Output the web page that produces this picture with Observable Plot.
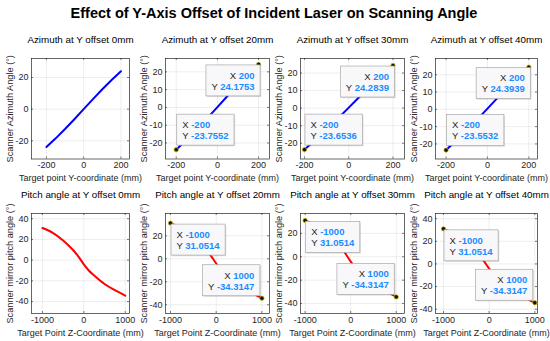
<!DOCTYPE html>
<html><head><meta charset="utf-8">
<script src="https://cdn.jsdelivr.net/npm/d3@7"></script>
<script src="https://cdn.jsdelivr.net/npm/@observablehq/plot@0.6"></script>
<style>
html,body{margin:0;padding:0;background:#fff;}
#chart{position:relative;width:550px;height:341px;font-family:"Liberation Sans",Arial,Helvetica,sans-serif;overflow:hidden;background:#fff;}
#title{position:absolute;left:0;width:548px;top:5px;text-align:center;font-weight:bold;font-size:14.5px;color:#000;line-height:17px;}
</style></head><body>
<div id="chart"><div id="title">Effect of Y-Axis Offset of Incident Laser on Scanning Angle</div></div>
<script>
// ---- data ----
const targetY = [-200, -150, -100, -50, 0, 50, 100, 150, 200];
const azimuth0 = [-23.96, -18.45, -12.55, -6.35, 0, 6.35, 12.55, 18.45, 23.96];
const azimuth20 = [-23.7552, -18.2, -12.35, -6.15, 0.2, 6.55, 12.75, 18.65, 24.1753];
const azimuth30 = [-23.6536, -18.1, -12.25, -6.05, 0.3, 6.65, 12.85, 18.75, 24.2839];
const azimuth40 = [-23.5532, -18.0, -12.15, -5.95, 0.4, 6.75, 12.95, 18.85, 24.3939];
const targetZ = [-1000, -750, -500, -250, -125, 0, 125, 250, 500, 750, 1000];
const pitch = [31.0514, 26.4, 19.0, 9.3, 3.2, -4.1, -10.2, -14.8, -23.0, -29.0, -34.3147];
const offsets = [0, 20, 30, 40];
const xTicksTop = [-200, 0, 200];
const xTicksBottom = [-1000, 0, 1000];
const yTicksTop0 = [-20, 0, 20];
const yTicksTop = [-20, -10, 0, 10, 20];
const yTicksBottom = [-40, -20, 0, 20, 40];
const xDomTop = [[-280, 246], [-252, 253], [-218, 252], [-251, 242]];
const yDomTop = [[-31.5, 32], [-29, 27.5], [-29, 28.3], [-28.7, 29.4]];
const xDomBottom = [[-1264, 1103], [-1109, 1166], [-1102, 1181], [-1175, 1059]];
const yDomBottom = [[-51.5, 45], [-47.6, 39.4], [-48.5, 37], [-43.8, 44.6]];
const azimuthSeries = [azimuth0, azimuth20, azimuth30, azimuth40];

// ---- layout ----
const frameX = [[31, 129], [165, 269], [300, 404], [435, 537]];
const frameYTop = [57.5, 158];
const frameYBottom = [212.5, 312.5];
const FONT = "Liberation Sans, Arial, Helvetica, sans-serif";
const INK = "#262626";
const TIPBLUE = "#1a8cff";

const panels = [];
offsets.forEach((o, i) => {
  panels.push({
    xs: targetY, ys: azimuthSeries[i], color: "#0000ff", curve: "linear",
    title: `Azimuth at Y offset ${o}mm`, xlab: "Target point Y-coordinate (mm)", ylab: "Scanner Azimuth Angle (°)",
    xdom: xDomTop[i], ydom: yDomTop[i], xt: xTicksTop, yt: i === 0 ? yTicksTop0 : yTicksTop,
    frame: [frameX[i][0], frameYTop[0], frameX[i][1], frameYTop[1]],
    tips: i === 0 ? null : [{idx: targetY.length - 1, place: "bl"}, {idx: 0, place: "ar"}]
  });
});
offsets.forEach((o, i) => {
  panels.push({
    xs: targetZ, ys: pitch, color: "#ff0000", curve: "monotone-x",
    title: `Pitch angle at Y offset ${o}mm`, xlab: "Target Point Z-Coordinate (mm)", ylab: "Scanner mirror pitch angle (°)",
    xdom: xDomBottom[i], ydom: yDomBottom[i], xt: xTicksBottom,
    yt: yTicksBottom.filter(t => t >= yDomBottom[i][0] && t <= yDomBottom[i][1]),
    frame: [frameX[i][0], frameYBottom[0], frameX[i][1], frameYBottom[1]],
    tips: i === 0 ? null : [{idx: 0, place: "br"}, {idx: targetZ.length - 1, place: "al"}]
  });
});

const chart = document.getElementById("chart");
const mL = 46, mR = 14, mT = 30, mB = 30;

function scaleFn(sc) {
  if (typeof sc.apply === "function") return v => sc.apply(v);
  return d3.scaleLinear(sc.domain, sc.range);
}

panels.forEach(p => {
  const [fl, ft, fr, fb] = p.frame;
  const fw = fr - fl, fh = fb - ft;
  const data = p.xs.map((x, i) => ({x, y: p.ys[i]}));
  const marks = [
    Plot.gridX(p.xt, {stroke: "#000", strokeOpacity: 0.12, strokeWidth: 0.6}),
    Plot.gridY(p.yt, {stroke: "#000", strokeOpacity: 0.12, strokeWidth: 0.6}),
    Plot.line(data, {x: "x", y: "y", stroke: p.color, strokeWidth: 2, curve: p.curve}),
    Plot.frame({stroke: INK, strokeWidth: 0.7}),
    Plot.tickX(p.xt, {x: d => d, insetTop: fh - 2, stroke: INK, strokeWidth: 0.6}),
    Plot.tickX(p.xt, {x: d => d, insetBottom: fh - 2, stroke: INK, strokeWidth: 0.6}),
    Plot.tickY(p.yt, {y: d => d, insetRight: fw - 2, stroke: INK, strokeWidth: 0.6}),
    Plot.tickY(p.yt, {y: d => d, insetLeft: fw - 2, stroke: INK, strokeWidth: 0.6}),
    Plot.axisX({ticks: p.xt, tickSize: 0, tickPadding: 3, fontSize: 9, tickFormat: d => String(d), label: null, fill: INK}),
    Plot.axisY({ticks: p.yt, tickSize: 0, tickPadding: 3, fontSize: 9, tickFormat: d => String(d), label: null, fill: INK}),
    Plot.text([p.title], {text: d => d, frameAnchor: "top", dy: -18.5, fontSize: 9.8, fill: "#000", textAnchor: "middle", lineAnchor: "middle"}),
    Plot.text([p.xlab], {text: d => d, frameAnchor: "bottom", dy: 19.5, fontSize: 9, fill: INK, textAnchor: "middle", lineAnchor: "middle"}),
    Plot.text([p.ylab], {text: d => d, frameAnchor: "left", dx: -21, rotate: -90, fontSize: 9.2, fill: INK, textAnchor: "middle", lineAnchor: "middle"})
  ];
  if (p.tips) {
    const pts = p.tips.map(t => data[t.idx]);
    marks.push(Plot.dot(pts, {x: "x", y: "y", r: 2.2, fill: "#111", stroke: "#e0c400", strokeWidth: 0.7}));
  }
  const svg = Plot.plot({
    width: fw + mL + mR, height: fh + mT + mB,
    marginLeft: mL, marginRight: mR, marginTop: mT, marginBottom: mB,
    x: {domain: p.xdom}, y: {domain: p.ydom},
    style: {fontFamily: FONT, fontSize: "9px", overflow: "visible", background: "transparent", color: INK},
    marks
  });
  svg.style.position = "absolute";
  svg.style.left = (fl - mL) + "px";
  svg.style.top = (ft - mT) + "px";
  chart.appendChild(svg);

  if (p.tips) {
    const sx = scaleFn(svg.scale("x")), sy = scaleFn(svg.scale("y"));
    p.tips.forEach(t => {
      const d = data[t.idx];
      const px = sx(d.x), py = sy(d.y);
      const g = d3.select(svg).append("g").attr("font-family", FONT).attr("font-size", 9.5);
      const shadow = g.append("rect").attr("fill", "#000").attr("fill-opacity", 0.13);
      const rect = g.append("rect").attr("fill", "#f8f8fb").attr("stroke", "#a8a8a8").attr("stroke-width", 0.7);
      const lines = [["X", String(d.x)], ["Y", d.y.toFixed(4)]];
      const texts = lines.map(([k, v]) => {
        const tx = g.append("text").attr("dy", "0.35em");
        tx.append("tspan").attr("fill", INK).text(k + " ");
        tx.append("tspan").attr("fill", TIPBLUE).attr("font-weight", "bold").text(v);
        return tx;
      });
      const tw = Math.max(...texts.map(tx => tx.node().getComputedTextLength()));
      const w = tw + 11, h = 31;
      let bx, by;
      if (t.place === "bl") { bx = px + 2 - w; by = py + 1; }
      else if (t.place === "ar") { bx = px + 1; by = py - 4 - h; }
      else if (t.place === "br") { bx = px + 1; by = py + 1.5; }
      else { bx = px - 1.5 - w; by = py - 2 - h; }
      rect.attr("x", bx).attr("y", by).attr("width", w).attr("height", h);
      shadow.attr("x", bx + 1.2).attr("y", by + 1.2).attr("width", w).attr("height", h);
      const rightAlign = (t.place === "bl" || t.place === "al");
      texts.forEach((tx, k) => {
        tx.attr("y", by + 10.5 + k * 11)
          .attr("x", rightAlign ? bx + w - 5.5 : bx + 5.5)
          .attr("text-anchor", rightAlign ? "end" : "start");
      });
    });
  }
});
</script>
</body></html>
